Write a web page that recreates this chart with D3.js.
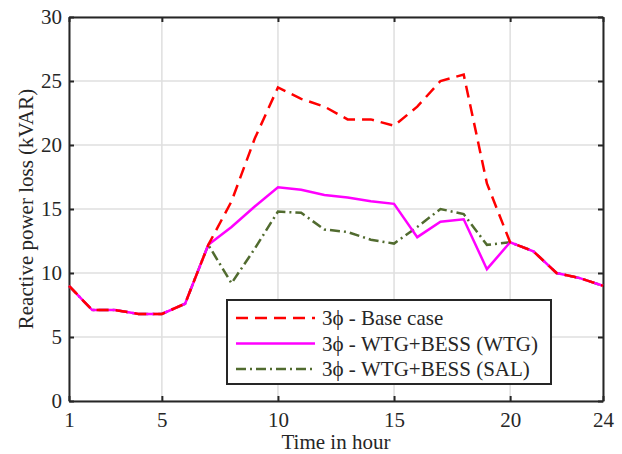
<!DOCTYPE html>
<html>
<head>
<meta charset="utf-8">
<script src="https://cdn.jsdelivr.net/npm/d3@7"></script>
<style>
  body { margin: 0; background: #fff; }
  text { font-family: "Liberation Serif", "Times New Roman", serif; fill: #262626; }
</style>
</head>
<body>
<div id="chart"></div>
<script>
// hours 1..24
var hours = [1,2,3,4,5,6,7,8,9,10,11,12,13,14,15,16,17,18,19,20,21,22,23,24];

var baseCase = [9.0,7.1,7.1,6.8,6.8,7.6,12.2,15.6,20.5,24.5,23.6,23.0,22.0,22.0,21.5,23.0,25.0,25.5,17.0,12.4,11.7,10.0,9.6,9.0];
var wtgCase  = [9.0,7.1,7.1,6.8,6.8,7.6,12.2,13.6,15.2,16.7,16.5,16.1,15.9,15.6,15.4,12.8,14.0,14.2,10.3,12.4,11.7,10.0,9.6,9.0];
var salCase  = [9.0,7.1,7.1,6.8,6.8,7.6,12.2,9.2,11.9,14.8,14.7,13.4,13.2,12.6,12.3,13.6,15.0,14.6,12.2,12.4,11.7,10.0,9.6,9.0];

var xTicks = [1,5,10,15,20,24];
var yTicks = [0,5,10,15,20,25,30];

var seriesNames = ["3\u03D5 - Base case", "3\u03D5 - WTG+BESS (WTG)", "3\u03D5 - WTG+BESS (SAL)"];

var margin = { top: 17, right: 19, bottom: 53, left: 69 };
var width = 622 - margin.left - margin.right,
    height = 454 - margin.top - margin.bottom;

var svg = d3.select("#chart").append("svg")
    .attr("width", 622)
    .attr("height", 454)
    .append("g")
    .attr("transform", "translate(" + margin.left + "," + margin.top + ")");

var x = d3.scaleLinear().domain([1, 24]).range([0, width]);
var y = d3.scaleLinear().domain([0, 30]).range([height, 0]);

// grid
svg.append("g").selectAll("line.gx")
    .data(xTicks).enter().append("line")
    .attr("x1", d => x(d)).attr("x2", d => x(d))
    .attr("y1", 0).attr("y2", height)
    .attr("stroke", "#dfdfdf").attr("stroke-width", 1.5);
svg.append("g").selectAll("line.gy")
    .data(yTicks).enter().append("line")
    .attr("y1", d => y(d)).attr("y2", d => y(d))
    .attr("x1", 0).attr("x2", width)
    .attr("stroke", "#dfdfdf").attr("stroke-width", 1.5);

// axes (ticks inward, box)
var xAxis = svg.append("g")
    .attr("transform", "translate(0," + height + ")")
    .call(d3.axisBottom(x).tickValues(xTicks).tickSizeInner(-5).tickSizeOuter(0).tickPadding(11));
var xAxisTop = svg.append("g")
    .call(d3.axisTop(x).tickValues(xTicks).tickSizeInner(-5).tickSizeOuter(0).tickFormat(""));
var yAxis = svg.append("g")
    .call(d3.axisLeft(y).tickValues(yTicks).tickSizeInner(-5).tickSizeOuter(0).tickPadding(7));
var yAxisRight = svg.append("g")
    .attr("transform", "translate(" + width + ",0)")
    .call(d3.axisRight(y).tickValues(yTicks).tickSizeInner(-5).tickSizeOuter(0).tickFormat(""));

[xAxis, xAxisTop, yAxis, yAxisRight].forEach(function(a) {
    a.select(".domain").attr("stroke", "#262626").attr("stroke-width", 2);
    a.selectAll(".tick line").attr("stroke", "#262626").attr("stroke-width", 2);
    a.selectAll(".tick text").style("font-size", "21px").attr("fill", "#262626")
        .style("font-family", "'Liberation Serif', serif");
});

// lines
var line = d3.line()
    .x(function(d, i) { return x(hours[i]); })
    .y(function(d) { return y(d); });

var styles = [
    { data: baseCase, color: "#ff0000", dash: "12,7" },
    { data: wtgCase,  color: "#ff00ff", dash: null },
    { data: salCase,  color: "#516b2f", dash: "10,4,2,4" }
];

styles.slice().reverse().forEach(function(s) {
    svg.append("path")
        .datum(s.data)
        .attr("d", line)
        .attr("fill", "none")
        .attr("stroke", s.color)
        .attr("stroke-width", 2.5)
        .attr("stroke-dasharray", s.dash);
});

// axis labels
svg.append("text")
    .attr("x", width / 2)
    .attr("y", height + 48)
    .attr("text-anchor", "middle")
    .style("font-size", "21px")
    .text("Time in hour");

svg.append("text")
    .attr("transform", "rotate(-90)")
    .attr("x", -height / 2)
    .attr("y", -36)
    .attr("text-anchor", "middle")
    .style("font-size", "21px")
    .text("Reactive power loss (kVAR)");

// legend
var legend = svg.append("g")
    .attr("transform", "translate(" + (227 - margin.left) + "," + (300 - margin.top) + ")");

legend.append("rect")
    .attr("width", 324).attr("height", 84)
    .attr("fill", "#fff")
    .attr("stroke", "#262626").attr("stroke-width", 2);

styles.forEach(function(s, i) {
    var yy = 18 + i * 25.5;
    legend.append("line")
        .attr("x1", 9).attr("x2", 88)
        .attr("y1", yy).attr("y2", yy)
        .attr("stroke", s.color)
        .attr("stroke-width", 2.5)
        .attr("stroke-dasharray", s.dash);
    legend.append("text")
        .attr("x", 95)
        .attr("y", yy + 7)
        .style("font-size", "21px")
        .text(seriesNames[i]);
});
</script>
</body>
</html>
